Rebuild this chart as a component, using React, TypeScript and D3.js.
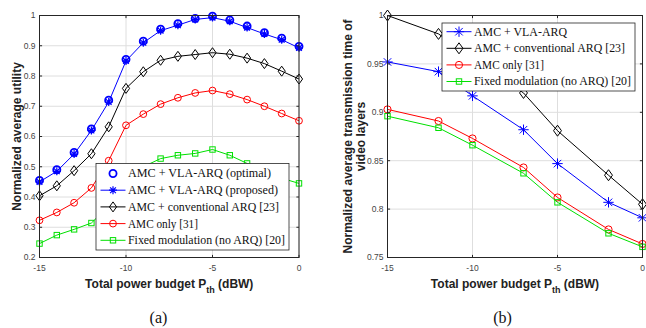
import React from "react";
import * as d3 from "d3";

// ---- (a) normalized average utility ----
const utilX = [-15, -14, -13, -12, -11, -10, -9, -8, -7, -6, -5, -4, -3, -2, -1, 0];
const utilOptimal = [0.455, 0.49, 0.547, 0.625, 0.72, 0.855, 0.915, 0.955, 0.973, 0.99, 0.998, 0.985, 0.965, 0.943, 0.925, 0.898];
const utilProposed = [0.45, 0.485, 0.542, 0.62, 0.714, 0.85, 0.91, 0.95, 0.968, 0.987, 0.993, 0.981, 0.96, 0.939, 0.92, 0.893];
const utilConv = [0.404, 0.437, 0.487, 0.543, 0.632, 0.759, 0.814, 0.852, 0.865, 0.871, 0.877, 0.872, 0.859, 0.841, 0.816, 0.79];
const utilAmc = [0.323, 0.349, 0.381, 0.43, 0.52, 0.637, 0.674, 0.707, 0.728, 0.744, 0.752, 0.74, 0.722, 0.7, 0.676, 0.652];
const utilFixed = [0.246, 0.274, 0.293, 0.314, 0.37, 0.45, 0.5, 0.527, 0.538, 0.544, 0.557, 0.538, 0.511, 0.485, 0.462, 0.445];
const utilTicks = [0.2, 0.3, 0.4, 0.5, 0.6, 0.7, 0.8, 0.9, 1];

// ---- (b) normalized average transmission time ----
const timeX = [-15, -12, -10, -7, -5, -2, 0];
const timeVla = [0.952, 0.942, 0.917, 0.882, 0.847, 0.807, 0.791];
const timeConv = [1.0, 0.981, 0.956, 0.92, 0.881, 0.835, 0.805];
const timeAmc = [0.903, 0.891, 0.873, 0.843, 0.812, 0.779, 0.764];
const timeFixed = [0.896, 0.884, 0.866, 0.837, 0.807, 0.775, 0.761];
const timeTicks = [0.75, 0.8, 0.85, 0.9, 0.95, 1];

const xTicks = [-15, -10, -5, 0];

const AX = "#262626";
const GRID = "#dedede";
const SANS = "'Liberation Sans', Arial, sans-serif";
const SERIF = "'Liberation Serif', 'Times New Roman', serif";

type MarkerKind = "circle" | "star" | "diamond" | "square";

function Marker({ kind, x, y, color, size = 1, sw = 1 }: any) {
  if (kind === "circle") {
    const r = 3.4 * size;
    return <circle cx={x} cy={y} r={r} fill="none" stroke={color} strokeWidth={sw} />;
  }
  if (kind === "star") {
    const r = 4 * size;
    const d = r * 0.72;
    return (
      <path
        d={`M${x - r},${y}H${x + r}M${x},${y - r}V${y + r}M${x - d},${y - d}L${x + d},${y + d}M${x - d},${y + d}L${x + d},${y - d}`}
        stroke={color}
        strokeWidth={sw}
        fill="none"
      />
    );
  }
  if (kind === "diamond") {
    const w = 3.6 * size;
    const h = 5 * size;
    return (
      <path
        d={`M${x},${y - h}L${x + w},${y}L${x},${y + h}L${x - w},${y}Z`}
        stroke={color}
        strokeWidth={sw}
        fill="none"
      />
    );
  }
  const s = 2.7 * size;
  return <rect x={x - s} y={y - s} width={2 * s} height={2 * s} stroke={color} strokeWidth={sw} fill="none" />;
}

type Series = {
  label: string;
  color: string;
  marker: MarkerKind;
  values: number[];
  noLine?: boolean;
  sw?: number;
  size?: number;
  tw?: number; // legend text width
};

function Panel({ left, right, top, bottom, xs, yDomain, yTicks, series, legend, yLabel, caption, captionX }: any) {
  const x = d3.scaleLinear().domain([-15, 0]).range([left, right]);
  const y = d3.scaleLinear().domain(yDomain).range([bottom, top]);
  const fmt = d3.format("~g");
  const line = d3
    .line<number>()
    .x((_, i) => x(xs[i]))
    .y((d) => y(d));
  const tl = 2.6;
  const cx = (left + right) / 2;
  return (
    <g>
      {/* grid */}
      {yTicks.map((t: number) => (
        <line key={"gy" + t} x1={left} x2={right} y1={y(t)} y2={y(t)} stroke={GRID} strokeWidth={1} />
      ))}
      {xTicks.map((t) => (
        <line key={"gx" + t} x1={x(t)} x2={x(t)} y1={top} y2={bottom} stroke={GRID} strokeWidth={1} />
      ))}
      {/* series */}
      {series.map((s: Series) => (
        <g key={s.label}>
          {!s.noLine && <path d={line(s.values) || ""} fill="none" stroke={s.color} strokeWidth={1} />}
          {s.values.map((v, i) => (
            <Marker key={i} kind={s.marker} x={x(xs[i])} y={y(v)} color={s.color} size={s.size || 1} sw={s.sw || 1} />
          ))}
        </g>
      ))}
      {/* box + ticks */}
      <rect x={left} y={top} width={right - left} height={bottom - top} fill="none" stroke={AX} strokeWidth={1} />
      {yTicks.map((t: number) => (
        <g key={"ty" + t}>
          <line x1={left} x2={left + tl} y1={y(t)} y2={y(t)} stroke={AX} />
          <line x1={right - tl} x2={right} y1={y(t)} y2={y(t)} stroke={AX} />
          <text x={left - 4} y={y(t)} dy="0.35em" textAnchor="end" fontFamily={SANS} fontSize={8.5} fill="#444">
            {fmt(t)}
          </text>
        </g>
      ))}
      {xTicks.map((t) => (
        <g key={"tx" + t}>
          <line x1={x(t)} x2={x(t)} y1={bottom} y2={bottom - tl} stroke={AX} />
          <line x1={x(t)} x2={x(t)} y1={top} y2={top + tl} stroke={AX} />
          <text x={x(t)} y={bottom + 11} dy="0.35em" textAnchor="middle" fontFamily={SANS} fontSize={8.5} fill="#444">
            {t}
          </text>
        </g>
      ))}
      {/* legend */}
      <rect x={legend.x} y={legend.y} width={legend.w} height={legend.h} fill="#fff" stroke={AX} strokeWidth={0.8} />
      {series.map((s: Series, i: number) => {
        const ry = legend.y + legend.first + i * legend.step;
        const lx = legend.x + 4.5;
        return (
          <g key={"lg" + s.label}>
            {!s.noLine && <line x1={lx} x2={lx + 25} y1={ry} y2={ry} stroke={s.color} strokeWidth={1} />}
            <Marker kind={s.marker} x={lx + 12.5} y={ry} color={s.color} size={s.size || 1} sw={s.sw || 1} />
            <text
              x={lx + 27.5}
              y={ry}
              dy="0.33em"
              fontFamily={SERIF}
              fontSize={12}
              fill="#111"
              textLength={s.tw}
              lengthAdjust="spacingAndGlyphs"
            >
              {s.label}
            </text>
          </g>
        );
      })}
      {/* axis labels */}
      <text x={cx} y={288} textAnchor="middle" fontFamily={SANS} fontSize={12} fontWeight="bold" fill="#222">
        Total power budget P
        <tspan fontSize={9} dy={5}>
          th
        </tspan>
        <tspan dy={-5}> (dBW)</tspan>
      </text>
      {yLabel.map((l: string, i: number) => (
        <text
          key={l}
          transform={`translate(${yLabel.length === 1 ? left - 23 : left - 40 + i * 13},${(top + bottom) / 2}) rotate(-90)`}
          textAnchor="middle"
          dy="0.35em"
          fontFamily={SANS}
          fontSize={12}
          fontWeight="bold"
          fill="#222"
        >
          {l}
        </text>
      ))}
      <text x={captionX} y={323} textAnchor="middle" fontFamily={SERIF} fontSize={16} fill="#111">
        {caption}
      </text>
    </g>
  );
}

export default function App() {
  const utilSeries: Series[] = [
    { label: "AMC + VLA-ARQ (optimal)", color: "#0000ff", marker: "circle", values: utilOptimal, noLine: true, sw: 1.8, size: 1.05, tw: 143 },
    { label: "AMC + VLA-ARQ (proposed)", color: "#0000ff", marker: "star", values: utilProposed, sw: 1.2, tw: 150 },
    { label: "AMC + conventional ARQ [23]", color: "#000000", marker: "diamond", values: utilConv, tw: 151 },
    { label: "AMC only [31]", color: "#ff0000", marker: "circle", values: utilAmc, tw: 70 },
    { label: "Fixed modulation (no ARQ) [20]", color: "#00e000", marker: "square", values: utilFixed, tw: 157 },
  ];
  const timeSeries: Series[] = [
    { label: "AMC + VLA-ARQ", color: "#0000ff", marker: "star", values: timeVla, size: 1.3, tw: 93 },
    { label: "AMC + conventional ARQ [23]", color: "#000000", marker: "diamond", values: timeConv, size: 1.1, tw: 151 },
    { label: "AMC only [31]", color: "#ff0000", marker: "circle", values: timeAmc, size: 1.05, tw: 70 },
    { label: "Fixed modulation (no ARQ) [20]", color: "#00e000", marker: "square", values: timeFixed, tw: 157 },
  ];
  return (
    <svg width={646} height={328} style={{ position: "absolute", left: 0, top: 0, background: "#fff" }}>
      <Panel
        left={39.5}
        right={299}
        top={15.5}
        bottom={257.5}
        xs={utilX}
        yDomain={[0.2, 1]}
        yTicks={utilTicks}
        series={utilSeries}
        legend={{ x: 96, y: 163.5, w: 193, h: 86.5, first: 10, step: 16.7 }}
        yLabel={["Normalized average utility"]}
        caption="(a)"
        captionX={158.5}
      />
      <Panel
        left={387.5}
        right={642.5}
        top={15.5}
        bottom={257.5}
        xs={timeX}
        yDomain={[0.75, 1]}
        yTicks={timeTicks}
        series={timeSeries}
        legend={{ x: 442, y: 23, w: 193, h: 68, first: 8.7, step: 16.6 }}
        yLabel={["Normalized average transmission time of", "video layers"]}
        caption="(b)"
        captionX={502.5}
      />
    </svg>
  );
}
